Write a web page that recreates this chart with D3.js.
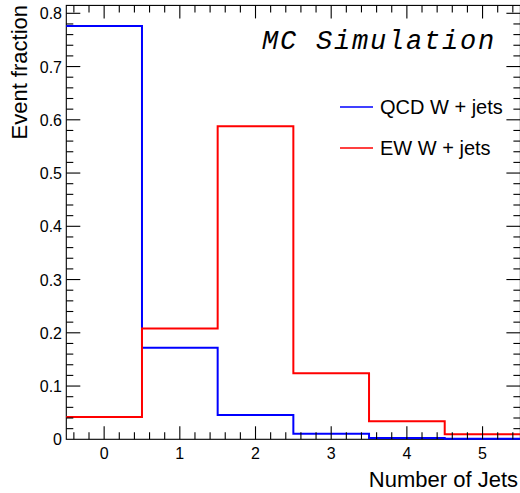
<!DOCTYPE html>
<html><head><meta charset="utf-8">
<script src="https://cdn.jsdelivr.net/npm/d3@7"></script>
<style>body{margin:0;background:#fff}svg{display:block}</style>
</head><body>
<script>
const binCenters = [0, 1, 2, 3, 4, 5];
const qcdValues = [0.776, 0.172, 0.0456, 0.0105, 0.0025, 0.0012];
const ewValues  = [0.042, 0.208, 0.588, 0.124, 0.034, 0.0094];
const seriesNames = ["QCD W + jets", "EW W + jets"];
const seriesColors = ["#0000ff", "#ff0000"];
const xTicks = [0, 1, 2, 3, 4, 5];
const yTicks = [0, 0.1, 0.2, 0.3, 0.4, 0.5, 0.6, 0.7, 0.8];

const W = 520, H = 493;
const svg = d3.select("body").append("svg").attr("width", W).attr("height", H);
const font = "'Liberation Sans', Arial, sans-serif";

const ymax = 1.05 * d3.max(qcdValues.concat(ewValues));
const x = d3.scaleLinear().domain([-0.5, 5.5]).range([66.3, 520.4]);
const y = d3.scaleLinear().domain([0, ymax]).range([439.3, 439.3 - ymax * 532.5]);

const L = x.range()[0], R = x.range()[1], B = y(0), T = y(ymax);

// frame
svg.append("rect").attr("x", L).attr("y", T).attr("width", R - L).attr("height", B - T)
  .attr("fill", "none").attr("stroke", "#000").attr("stroke-width", 1.1);

// histograms
function stepPath(vals) {
  const p = d3.path();
  vals.forEach((v, i) => {
    const x0 = x(binCenters[i] - 0.5), x1 = x(binCenters[i] + 0.5);
    if (i === 0) p.moveTo(x0, y(v)); else p.lineTo(x0, y(v));
    p.lineTo(x1, y(v));
  });
  return p.toString();
}
[qcdValues, ewValues].forEach((vals, k) => {
  svg.append("path").attr("d", stepPath(vals)).attr("fill", "none")
    .attr("stroke", seriesColors[k]).attr("stroke-width", 2);
});

// x axis ticks (bottom and top)
const xMinor = d3.range(-0.4, 5.5, 0.2).map(v => Math.round(v * 10) / 10);
const tg = svg.append("g").attr("stroke", "#000").attr("stroke-width", 1.1);
xMinor.forEach(v => {
  const major = Math.abs(v - Math.round(v)) < 1e-6;
  const len = major ? 13 : 7;
  tg.append("line").attr("x1", x(v)).attr("x2", x(v)).attr("y1", B).attr("y2", B - len);
  tg.append("line").attr("x1", x(v)).attr("x2", x(v)).attr("y1", T).attr("y2", T + len);
});
// y axis ticks (left and right)
const yMinor = d3.range(0.02, ymax, 0.02).map(v => Math.round(v * 100) / 100);
yMinor.forEach(v => {
  const major = Math.abs(v * 10 - Math.round(v * 10)) < 1e-6;
  const len = major ? 14 : 7;
  tg.append("line").attr("x1", L).attr("x2", L + len).attr("y1", y(v)).attr("y2", y(v));
  tg.append("line").attr("x1", R).attr("x2", R - len).attr("y1", y(v)).attr("y2", y(v));
});

// tick labels
svg.append("g").selectAll("text").data(xTicks).join("text")
  .attr("x", d => x(d)).attr("y", 459).attr("text-anchor", "middle")
  .attr("font-family", font).attr("font-size", 16).text(d => d);
svg.append("g").selectAll("text").data(yTicks).join("text")
  .attr("x", 62).attr("y", d => y(d) + 6).attr("text-anchor", "end")
  .attr("font-family", font).attr("font-size", 16).text(d => d === 0 ? "0" : d3.format(".1f")(d));

// axis titles
svg.append("text").attr("x", 518).attr("y", 487).attr("text-anchor", "end")
  .attr("font-family", font).attr("font-size", 22).text("Number of Jets");
svg.append("text").attr("transform", "translate(27,5) rotate(-90)").attr("text-anchor", "end")
  .attr("font-family", font).attr("font-size", 22).text("Event fraction");

// MC Simulation
svg.append("text").attr("x", 262).attr("y", 49).attr("font-family", "'Liberation Mono', 'Courier New', monospace")
  .attr("font-style", "italic").attr("font-size", 27).attr("letter-spacing", 1.8).text("MC Simulation");

// legend
seriesNames.forEach((name, k) => {
  const ly = [107, 148][k];
  svg.append("line").attr("x1", 340).attr("x2", 373).attr("y1", ly).attr("y2", ly)
    .attr("stroke", seriesColors[k]).attr("stroke-width", 1.5);
  svg.append("text").attr("x", 380).attr("y", ly + 7).attr("font-family", font)
    .attr("font-size", 20).text(name);
});
</script>
</body></html>
